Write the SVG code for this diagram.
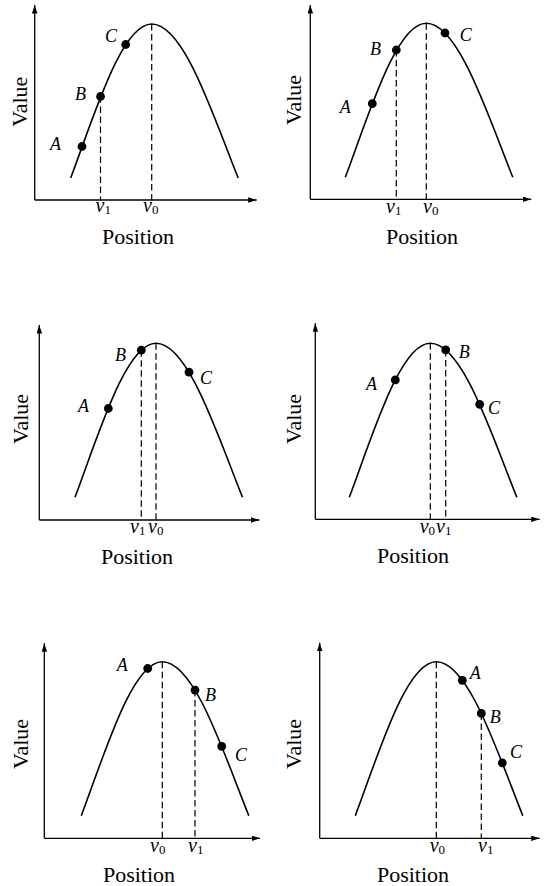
<svg xmlns="http://www.w3.org/2000/svg" width="547" height="886" viewBox="0 0 547 886">
<style>
.ax{stroke:#000;stroke-width:1.3;fill:none;marker-end:url(#arr)}
.cv{stroke:#000;stroke-width:1.6;fill:none}
.ds{stroke:#000;stroke-width:1.2;fill:none;stroke-dasharray:6.5 3.5}
.dot{fill:#000}
.pt{font-family:"Liberation Serif","Times New Roman",serif;font-style:italic;font-size:18px;fill:#000}
.v{font-family:"Liberation Serif","Times New Roman",serif;font-style:italic;font-size:20px;fill:#000}
.sub{font-style:normal;font-size:13px}
.lab{font-family:"Liberation Serif","Times New Roman",serif;font-size:22px;fill:#000;text-anchor:middle}
</style>
<defs>
<marker id="arr" markerUnits="userSpaceOnUse" markerWidth="9" markerHeight="6" refX="8.5" refY="2.75" orient="auto">
<path d="M0,0 L8.5,2.75 L0,5.5 Z" fill="#000"/>
</marker>
<path id="curve" class="cv" d="M-81,154 C-57,90 -30,0 0,0 C32,0 60.9,90 86.5,154"/>
</defs>
<rect width="547" height="886" fill="#fff"/>

<g id="panel1">
<path class="ax" d="M34.7,200 V5"/>
<path class="ax" d="M34.7,200 H256.7"/>
<use href="#curve" x="151.7" y="24"/>
<path class="ds" d="M100.5,96.5 V200 M151.7,24 V200"/>
<circle class="dot" cx="82" cy="146.5" r="4.4"/>
<circle class="dot" cx="100.5" cy="96.5" r="4.4"/>
<circle class="dot" cx="125.7" cy="44.5" r="4.4"/>
<text class="pt" x="50" y="150">A</text>
<text class="pt" x="75" y="100">B</text>
<text class="pt" x="105" y="41.5">C</text>
<text class="v" x="95.5" y="212">v<tspan class="sub" dy="2">1</tspan></text>
<text class="v" x="143" y="212">v<tspan class="sub" dy="2">0</tspan></text>
<text class="lab" x="138" y="244">Position</text>
<text class="lab" transform="translate(27,101.7) rotate(-90)">Value</text>
</g>

<g id="panel2">
<path class="ax" d="M310.3,199.3 V5"/>
<path class="ax" d="M310.3,199.3 H531.3"/>
<use href="#curve" x="426.3" y="23.3"/>
<path class="ds" d="M396.3,50 V199.3 M426.3,23.3 V199.3"/>
<circle class="dot" cx="372.3" cy="103.7" r="4.4"/>
<circle class="dot" cx="396.3" cy="50" r="4.4"/>
<circle class="dot" cx="445" cy="33" r="4.4"/>
<text class="pt" x="339.7" y="112.5">A</text>
<text class="pt" x="370" y="55">B</text>
<text class="pt" x="459.7" y="41">C</text>
<text class="v" x="386" y="212.5">v<tspan class="sub" dy="2">1</tspan></text>
<text class="v" x="423" y="212.5">v<tspan class="sub" dy="2">0</tspan></text>
<text class="lab" x="422" y="243.5">Position</text>
<text class="lab" transform="translate(301,100) rotate(-90)">Value</text>
</g>

<g id="panel3">
<path class="ax" d="M39.3,520 V325"/>
<path class="ax" d="M39.3,520 H259.3"/>
<use href="#curve" x="156" y="343.3"/>
<path class="ds" d="M141.3,350.2 V520 M156,343.3 V520"/>
<circle class="dot" cx="108.3" cy="408.5" r="4.4"/>
<circle class="dot" cx="141.3" cy="350.2" r="4.4"/>
<circle class="dot" cx="189" cy="372.2" r="4.4"/>
<text class="pt" x="78" y="412">A</text>
<text class="pt" x="115" y="361">B</text>
<text class="pt" x="200" y="384.3">C</text>
<text class="v" x="130" y="533">v<tspan class="sub" dy="2">1</tspan></text>
<text class="v" x="148" y="533">v<tspan class="sub" dy="2">0</tspan></text>
<text class="lab" x="137" y="564">Position</text>
<text class="lab" transform="translate(28,419) rotate(-90)">Value</text>
</g>

<g id="panel4">
<path class="ax" d="M315.3,519.3 V323.3"/>
<path class="ax" d="M315.3,519.3 H539.7"/>
<use href="#curve" x="430.3" y="343.3"/>
<path class="ds" d="M430.3,343.3 V519.3 M445.7,349.9 V519.3"/>
<circle class="dot" cx="395.3" cy="379.9" r="4.4"/>
<circle class="dot" cx="445.7" cy="349.9" r="4.4"/>
<circle class="dot" cx="479.7" cy="404.3" r="4.4"/>
<text class="pt" x="366" y="390">A</text>
<text class="pt" x="458.7" y="357.7">B</text>
<text class="pt" x="488" y="414">C</text>
<text class="v" x="419.7" y="532.5">v<tspan class="sub" dy="2">0</tspan></text>
<text class="v" x="436" y="532.5">v<tspan class="sub" dy="2">1</tspan></text>
<text class="lab" x="413" y="563">Position</text>
<text class="lab" transform="translate(301,419) rotate(-90)">Value</text>
</g>

<g id="panel5">
<path class="ax" d="M44.3,838.3 V643.3"/>
<path class="ax" d="M44.3,838.3 H260"/>
<use href="#curve" x="162.3" y="661.7"/>
<path class="ds" d="M162.3,661.7 V838.3 M195,690.1 V838.3"/>
<circle class="dot" cx="147.7" cy="668.5" r="4.4"/>
<circle class="dot" cx="195" cy="690.1" r="4.4"/>
<circle class="dot" cx="221.7" cy="746.3" r="4.4"/>
<text class="pt" x="116.7" y="671">A</text>
<text class="pt" x="205" y="701">B</text>
<text class="pt" x="235" y="761">C</text>
<text class="v" x="150" y="851.5">v<tspan class="sub" dy="2">0</tspan></text>
<text class="v" x="188" y="851.5">v<tspan class="sub" dy="2">1</tspan></text>
<text class="lab" x="139" y="882">Position</text>
<text class="lab" transform="translate(28,744) rotate(-90)">Value</text>
</g>

<g id="panel6">
<path class="ax" d="M319.7,838.3 V642.7"/>
<path class="ax" d="M319.7,838.3 H539.7"/>
<use href="#curve" x="436.3" y="661.7"/>
<path class="ds" d="M436.3,661.7 V838.3 M481.3,713.4 V838.3"/>
<circle class="dot" cx="462.3" cy="680.3" r="4.4"/>
<circle class="dot" cx="481.3" cy="713.4" r="4.4"/>
<circle class="dot" cx="502.3" cy="762.8" r="4.4"/>
<text class="pt" x="469.7" y="679.3">A</text>
<text class="pt" x="489.7" y="722.7">B</text>
<text class="pt" x="510" y="757.7">C</text>
<text class="v" x="429.7" y="851.5">v<tspan class="sub" dy="2">0</tspan></text>
<text class="v" x="478" y="851.5">v<tspan class="sub" dy="2">1</tspan></text>
<text class="lab" x="413" y="882">Position</text>
<text class="lab" transform="translate(301,744) rotate(-90)">Value</text>
</g>
</svg>
